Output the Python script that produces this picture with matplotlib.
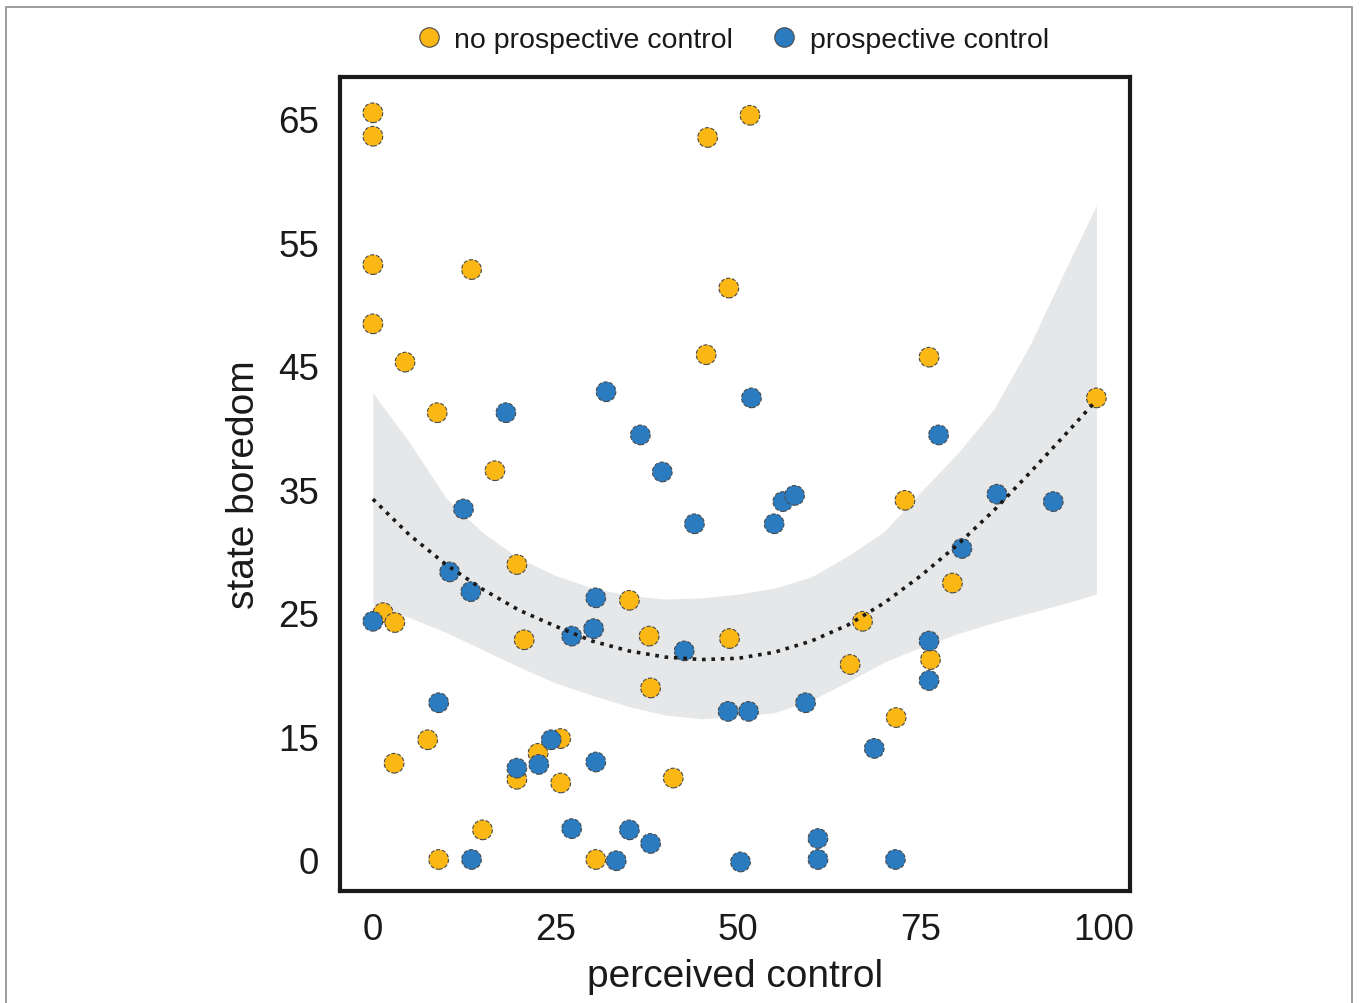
import matplotlib
matplotlib.use("Agg")
import matplotlib.pyplot as plt
from matplotlib.lines import Line2D
from matplotlib.patches import Rectangle

plt.rcParams['font.family'] = ['Liberation Sans', 'DejaVu Sans']

# data (y in axis units: the tick labelled "0" sits at 5) ##########
no_pc_x = [0, 0, 0, 13.5, 0, 4.4, 8.8, 16.7, 19.7, 1.4, 3.0, 20.7, 35.1, 37.8,
           38.0, 48.8, 45.6, 48.7, 45.8, 51.6, 76.1, 72.8, 79.3, 67.0, 65.3,
           76.3, 71.6, 99.0, 2.9, 7.5, 15.0, 19.7, 22.6, 25.7, 25.7, 9.0,
           30.5, 41.1]
no_pc_y = [65.5, 63.6, 53.2, 52.8, 48.4, 45.3, 41.2, 36.5, 28.9, 25.0, 24.2,
           22.8, 26.0, 23.1, 18.9, 22.9, 45.9, 51.3, 63.5, 65.3, 45.7, 34.1,
           27.4, 24.3, 20.8, 21.2, 16.5, 42.4, 12.8, 14.7, 7.4, 11.5, 13.6,
           14.8, 11.2, 5.0, 5.0, 11.6]

pc_x = [0, 12.4, 10.5, 13.4, 27.2, 30.2, 30.5, 9.0, 19.7, 22.7, 24.4, 30.5,
        27.2, 13.5, 33.3, 18.2, 31.9, 51.8, 36.6, 77.4, 39.6, 56.1, 57.7,
        85.4, 93.1, 44.0, 54.9, 80.6, 42.6, 76.1, 76.1, 48.6, 51.4, 59.2,
        68.6, 35.1, 38.0, 50.3, 60.9, 60.9, 71.5]
pc_y = [24.3, 33.4, 28.3, 26.7, 23.1, 23.7, 26.2, 17.7, 12.4, 12.7, 14.7, 12.9,
        7.5, 5.0, 4.9, 41.2, 42.9, 42.4, 39.4, 39.4, 36.4, 34.0, 34.5, 34.6,
        34.0, 32.2, 32.2, 30.2, 21.9, 22.7, 19.5, 17.0, 17.0, 17.7, 14.0,
        7.4, 6.3, 4.8, 6.7, 5.0, 5.0]

# smooth fit and confidence band
fit_x = [0, 5, 10, 15, 20, 25, 30, 35, 40, 45, 50, 55, 60, 65, 70, 75, 80,
         85, 90, 95, 99]
fit_y = [34.2, 31.3, 28.9, 26.9, 25.2, 23.9, 22.7, 21.9, 21.4, 21.2, 21.3,
         21.8, 22.7, 24.0, 25.8, 28.0, 30.5, 33.3, 36.4, 39.6, 42.2]
ci_hi = [42.8, 38.8, 34.3, 31.5, 29.4, 28.0, 27.0, 26.4, 26.1, 26.2, 26.5,
         27.0, 27.9, 29.6, 31.6, 34.8, 37.9, 41.5, 46.8, 53.1, 58.0]
ci_lo = [25.7, 24.6, 23.4, 22.0, 20.6, 19.3, 18.3, 17.4, 16.7, 16.4, 16.6,
         16.9, 17.9, 19.4, 21.0, 22.2, 23.3, 24.2, 25.0, 25.8, 26.5]

yticks = [5, 15, 25, 35, 45, 55, 65]
ytick_labels = ['0', '15', '25', '35', '45', '55', '65']
xticks = [0, 25, 50, 75, 100]
###################################################################

yellow = '#FBB714'
blue = '#2B7BC0'
edge = '#4a4a4a'

fig = plt.figure(figsize=(13.6, 10.04), dpi=100)
ax = fig.add_axes([0.25, 0.1116, 0.5809, 0.8107])

ax.fill_between(fit_x, ci_lo, ci_hi, color='#e6e7e8', lw=0, zorder=1)
ax.scatter(no_pc_x, no_pc_y, s=200, c=yellow, edgecolors=edge, linewidths=0.8,
           linestyles='--', zorder=3)
ax.scatter(pc_x, pc_y, s=200, c=blue, edgecolors=edge, linewidths=0.8,
           linestyles='--', zorder=3)
ax.plot(fit_x, fit_y, color='#1a1a1a', lw=2.6, ls=(0, (1, 1.6)), zorder=4)

ax.set_xlim(-4.5, 103.6)
ax.set_ylim(2.45, 68.4)
ax.set_xticks(xticks)
ax.set_yticks(yticks)
ax.set_yticklabels(ytick_labels)
ax.tick_params(length=0, labelsize=26.5, pad=15, colors='#1a1a1a')
for s in ax.spines.values():
    s.set_linewidth(3)
    s.set_color('#1a1a1a')

ax.set_xlabel('perceived control', fontsize=28, color='#1a1a1a', labelpad=8)
ax.set_ylabel('state boredom', fontsize=28, color='#1a1a1a', labelpad=12)

handles = [
    Line2D([], [], ls='none', marker='o', markersize=14, markerfacecolor=yellow,
           markeredgecolor=edge, markeredgewidth=0.8),
    Line2D([], [], ls='none', marker='o', markersize=14, markerfacecolor=blue,
           markeredgecolor=edge, markeredgewidth=0.8),
]
fig.legend(handles, ['no prospective control', 'prospective control'],
           loc='center', bbox_to_anchor=(0.538, 0.959), ncol=2, frameon=False,
           fontsize=20.5, handletextpad=0.4, columnspacing=1.3,
           handlelength=1.0, labelcolor='#1a1a1a')

# thin frame around the figure panel
fig.patches.append(Rectangle((6 / 1360, -0.1), 1346 / 1360, 1.1 - 8 / 1004,
                             transform=fig.transFigure, fill=False,
                             edgecolor='#8c8c8c', lw=1.2, clip_on=False))

fig.savefig('out.png', dpi=100)
